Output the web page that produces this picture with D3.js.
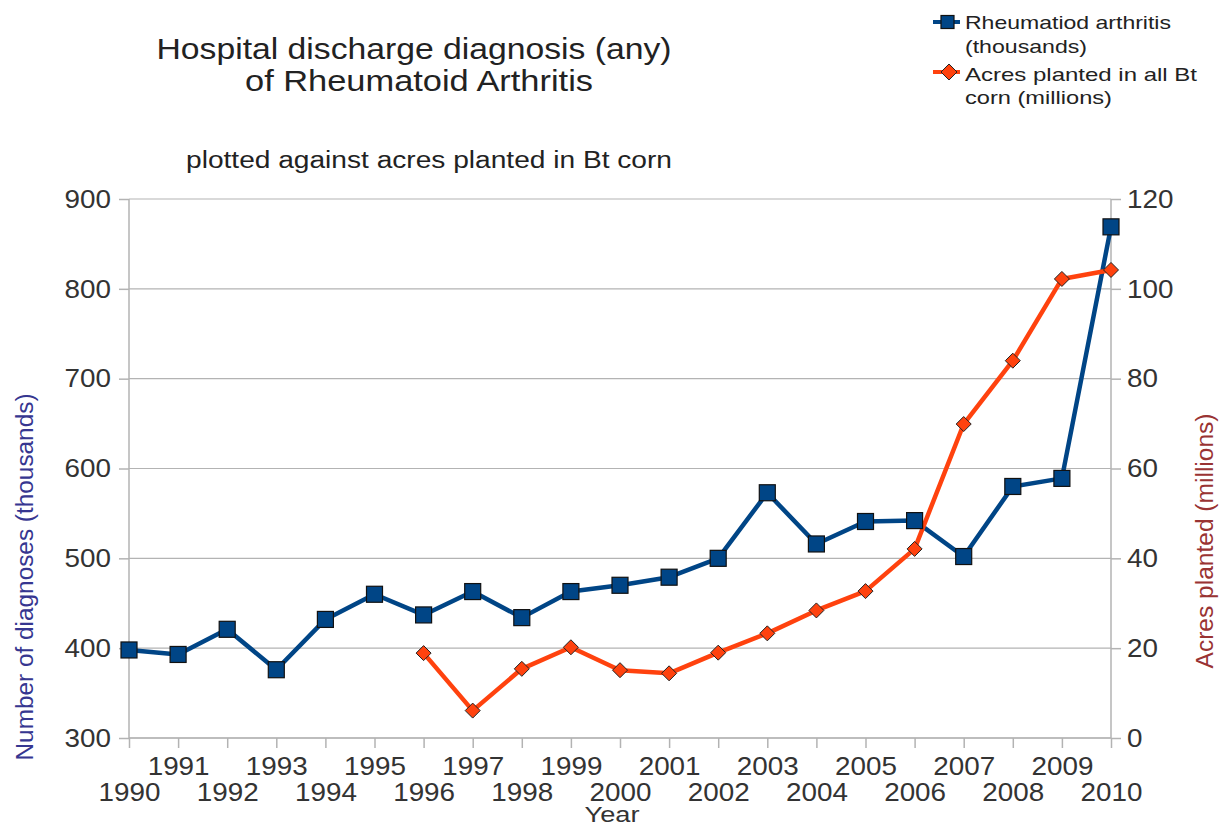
<!DOCTYPE html>
<html><head><meta charset="utf-8">
<script src="https://cdn.jsdelivr.net/npm/d3@7"></script>
<style>body{margin:0;background:#fff}svg{font-family:"Liberation Sans",Arial,sans-serif}</style>
</head><body><svg id="c" width="1222" height="826"></svg>
<script>
const years = d3.range(1990, 2011);
const rheumatoid = [398,393,421,376,432,460,437,463,434,463,470,479,500,573,516,541,542,502,580,589,869];
const btYears = d3.range(1996, 2011);
const btCorn = [18.9,6.1,15.4,20.2,15.1,14.4,19.0,23.3,28.4,32.7,42.1,69.9,84.0,102.2,104.2];
const leftTicks = [300,400,500,600,700,800,900];
const rightTicks = [0,20,40,60,80,100,120];

const svg = d3.select("#c");
const L = 129, R = 1111, T = 199, B = 738;
const x = d3.scaleLinear().domain([1990, 2010]).range([L, R]);
const yL = d3.scaleLinear().domain([300, 900]).range([B, T]);
const yR = d3.scaleLinear().domain([0, 120]).range([B, T]);
const grid = "#b3b3b3";

function stretch(sel, k) {
  sel.each(function () {
    const w = this.getComputedTextLength();
    d3.select(this).attr("textLength", w * k).attr("lengthAdjust", "spacingAndGlyphs");
  });
}

// gridlines
svg.append("g").selectAll("line").data(leftTicks).join("line")
  .attr("x1", L).attr("x2", R).attr("y1", d => yL(d)).attr("y2", d => yL(d))
  .attr("stroke", grid).attr("stroke-width", 1.2);

// axes
const axL = svg.append("g").attr("transform", `translate(${L},0)`)
  .call(d3.axisLeft(yL).tickValues(leftTicks).tickSize(10).tickPadding(8));
const axR = svg.append("g").attr("transform", `translate(${R},0)`)
  .call(d3.axisRight(yR).tickValues(rightTicks).tickSize(10).tickPadding(6));
const axB = svg.append("g").attr("transform", `translate(0,${B})`)
  .call(d3.axisBottom(x).tickValues(years).tickSize(10).tickFormat(d3.format("d")));
[axL, axR, axB].forEach(a => {
  a.select(".domain").attr("stroke", grid).attr("stroke-width", 1.5);
  a.selectAll(".tick line").attr("stroke", grid).attr("stroke-width", 1.5);
  a.selectAll("text").attr("fill", "#333").style("font-size", "26px");
});
axB.selectAll(".tick text").attr("dy", null)
  .attr("y", d => (d % 2 === 1) ? 37 : 63);
axB.select(".domain").attr("d", `M${L},0H${R}`);
axL.select(".domain").attr("d", `M0,${B}V${T}`);
axR.select(".domain").attr("d", `M0,${B}V${T}`);
[axL, axR, axB].forEach(a => stretch(a.selectAll(".tick text"), 1.07));

// lines
const lineBlue = d3.line().x((d, i) => x(years[i])).y(d => yL(d));
svg.append("path").datum(rheumatoid).attr("d", lineBlue)
  .attr("fill", "none").attr("stroke", "#004586").attr("stroke-width", 4.5).attr("stroke-linejoin", "round");
const lineOr = d3.line().x((d, i) => x(btYears[i])).y(d => yR(d));
svg.append("path").datum(btCorn).attr("d", lineOr)
  .attr("fill", "none").attr("stroke", "#ff420e").attr("stroke-width", 4.5).attr("stroke-linejoin", "round");

// markers
const sq = 16;
svg.append("g").selectAll("rect").data(rheumatoid).join("rect")
  .attr("x", (d, i) => x(years[i]) - sq / 2).attr("y", d => yL(d) - sq / 2)
  .attr("width", sq).attr("height", sq)
  .attr("fill", "#004586").attr("stroke", "#111").attr("stroke-width", 1.2);
const dm = 7.5;
svg.append("g").selectAll("path").data(btCorn).join("path")
  .attr("d", (d, i) => { const cx = x(btYears[i]), cy = yR(d);
    return `M${cx},${cy - dm}L${cx + dm},${cy}L${cx},${cy + dm}L${cx - dm},${cy}Z`; })
  .attr("fill", "#ff420e").attr("stroke", "#222").attr("stroke-width", 1);

// titles
function txt(xp, yp, s, size, len, fill, anchor) {
  return svg.append("text").attr("x", xp).attr("y", yp).attr("text-anchor", anchor || "middle")
    .style("font-size", size + "px").attr("fill", fill || "#222")
    .attr("textLength", len).attr("lengthAdjust", "spacingAndGlyphs").text(s);
}
txt(414, 59, "Hospital discharge diagnosis (any)", 29, 515);
txt(419, 91, "of Rheumatoid Arthritis", 29, 348);
txt(429, 168, "plotted against acres planted in Bt corn", 23, 486);
txt(612, 822, "Year", 22, 55, "#333");

// axis titles
svg.append("text").attr("transform", `translate(33,577) rotate(-90)`).attr("text-anchor", "middle")
  .style("font-size", "23px").attr("fill", "#363690")
  .attr("textLength", 367).attr("lengthAdjust", "spacingAndGlyphs")
  .text("Number of diagnoses (thousands)");
svg.append("text").attr("transform", `translate(1213,541) rotate(-90)`).attr("text-anchor", "middle")
  .style("font-size", "23px").attr("fill", "#993333")
  .attr("textLength", 255).attr("lengthAdjust", "spacingAndGlyphs")
  .text("Acres planted (millions)");

// legend
const lg = svg.append("g");
lg.append("line").attr("x1", 933).attr("x2", 960).attr("y1", 22).attr("y2", 22)
  .attr("stroke", "#004586").attr("stroke-width", 4);
lg.append("rect").attr("x", 941).attr("y", 15.5).attr("width", 13).attr("height", 13)
  .attr("fill", "#004586").attr("stroke", "#111").attr("stroke-width", 1.2);
lg.append("line").attr("x1", 933).attr("x2", 960).attr("y1", 72).attr("y2", 72)
  .attr("stroke", "#ff420e").attr("stroke-width", 4);
lg.append("path").attr("d", "M949,64L957,72L949,80L941,72Z")
  .attr("fill", "#ff420e").attr("stroke", "#222").attr("stroke-width", 1);
const legTxt = [["Rheumatiod arthritis", 29, 206], ["(thousands)", 53, 122], ["Acres planted in all Bt", 81, 232], ["corn (millions)", 104, 147]];
lg.selectAll("text").data(legTxt).join("text").attr("x", 965).attr("y", d => d[1])
  .style("font-size", "19px").attr("fill", "#222")
  .attr("textLength", d => d[2]).attr("lengthAdjust", "spacingAndGlyphs").text(d => d[0]);
</script></body></html>
